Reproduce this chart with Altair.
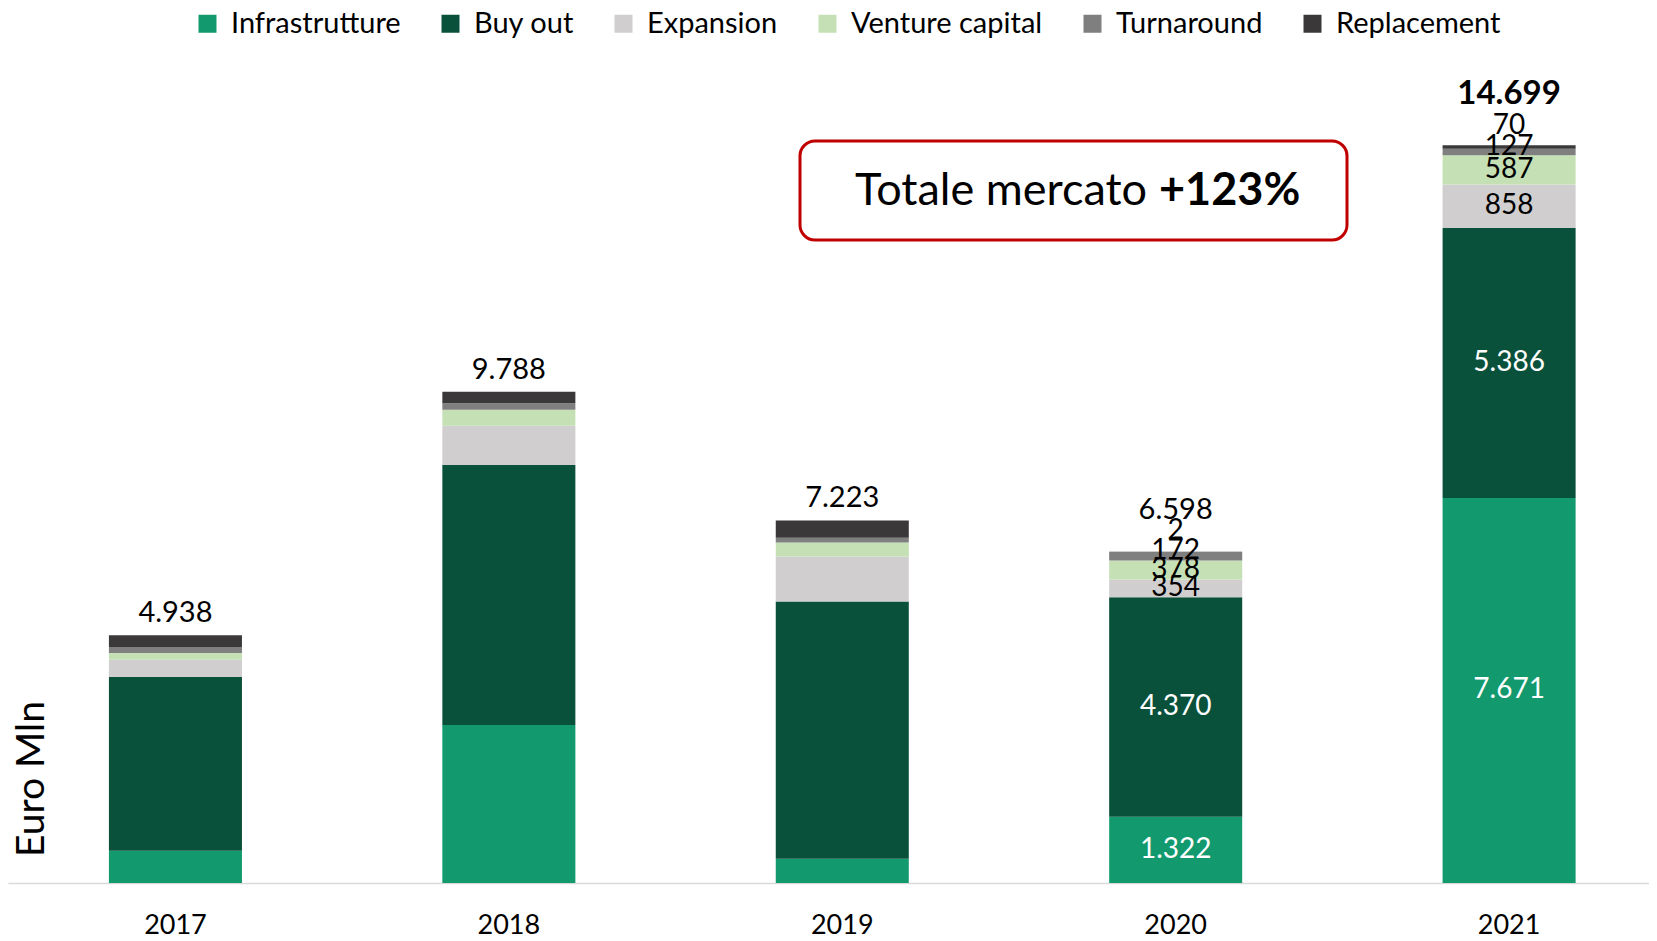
import altair as alt
import pandas as pd

# ---------------- data ----------------
years = ["2017", "2018", "2019", "2020", "2021"]
categories = ["Infrastrutture", "Buy out", "Expansion", "Venture capital", "Turnaround", "Replacement"]
colors = ["#129A6E", "#0A513C", "#D0CECE", "#C5E0B4", "#7F7F7F", "#3A3838"]

infrastrutture = [643, 3150, 484, 1322, 7671]
buy_out = [3460, 5178, 5125, 4370, 5386]
expansion = [345, 783, 896, 354, 858]
venture_capital = [133, 319, 279, 378, 587]
turnaround = [120, 127, 94, 172, 127]
replacement = [237, 231, 345, 2, 70]

totals = [4938, 9788, 7223, 6598, 14699]
labelled_years = ["2020", "2021"]
dark_categories = ["Infrastrutture", "Buy out"]

series = [infrastrutture, buy_out, expansion, venture_capital, turnaround, replacement]


def fmt(v):
    return f"{v:,}".replace(",", ".")


rows = []
for i, yr in enumerate(years):
    base = 0
    for j, cat in enumerate(categories):
        v = series[j][i]
        rows.append(dict(year=yr, cat=cat, order=j, value=v, y0=base, y1=base + v,
                         mid=base + v / 2, label=fmt(v),
                         show=yr in labelled_years, dark=cat in dark_categories))
        base += v
df = pd.DataFrame(rows)
tot = pd.DataFrame({"year": years, "total": totals, "label": [fmt(t) for t in totals]})

FONT = "Lato"
YMAX = 17434

xenc = alt.X("year:N", sort=years,
             scale=alt.Scale(paddingInner=0.601, paddingOuter=0.2614, align=0.579),
             axis=alt.Axis(title=None, labelAngle=0, labelFont=FONT, labelFontSize=27,
                           labelColor="#000000", labelPadding=29, ticks=False,
                           domainColor="#D9D9D9", domainWidth=1.5, grid=False))
yscale = alt.Scale(domain=[0, YMAX], nice=False, zero=True)

bars = alt.Chart(df).mark_bar().encode(
    x=xenc,
    y=alt.Y("y0:Q", scale=yscale, axis=None),
    y2="y1:Q",
    color=alt.Color("cat:N", scale=alt.Scale(domain=categories, range=colors),
                    legend=alt.Legend(title=None, orient="none", legendX=185, legendY=1,
                                      direction="horizontal", symbolType="square",
                                      symbolSize=324, symbolStrokeWidth=0, symbolOpacity=1,
                                      labelFont=FONT, labelFontSize=29, labelColor="#000000",
                                      labelLimit=500, columnPadding=35, labelOffset=9)),
)

seg = alt.Chart(df).transform_filter(alt.datum.show)
seg_enc = dict(
    x=alt.X("year:N", sort=years),
    y=alt.Y("mid:Q", scale=yscale),
    text="label:N",
    color=alt.condition(alt.datum.dark, alt.value("#FFFFFF"), alt.value("#000000")),
)
seg_main = seg.transform_filter(
    (alt.datum.cat != "Turnaround") & (alt.datum.cat != "Replacement")
).mark_text(font=FONT, fontSize=28, baseline="middle").encode(**seg_enc)
seg_turn = seg.transform_filter(alt.datum.cat == "Turnaround").mark_text(
    font=FONT, fontSize=28, baseline="middle", dy=-5).encode(**seg_enc)
seg_repl = seg.transform_filter(alt.datum.cat == "Replacement").mark_text(
    font=FONT, fontSize=28, baseline="middle", dy=-21).encode(**seg_enc)

tot_enc = dict(x=alt.X("year:N", sort=years), y=alt.Y("total:Q", scale=yscale), text="label:N")
tot_a = alt.Chart(tot).transform_filter(
    alt.FieldOneOfPredicate(field="year", oneOf=["2017", "2018", "2019"])
).mark_text(font=FONT, fontSize=29, baseline="middle", dy=-22, color="#000000").encode(**tot_enc)
tot_b = alt.Chart(tot).transform_filter(alt.datum.year == "2020").mark_text(
    font=FONT, fontSize=29, baseline="middle", dy=-42, color="#000000").encode(**tot_enc)
tot_c = alt.Chart(tot).transform_filter(alt.datum.year == "2021").mark_text(
    font=FONT, fontSize=33, fontWeight="bold", baseline="middle", dy=-51,
    color="#000000").encode(**tot_enc)

one = pd.DataFrame({"t": ["Euro Mln"]})
ytitle = alt.Chart(one).mark_text(font=FONT, fontSize=39, angle=270, baseline="middle",
                                  align="center", color="#000000").encode(
    x=alt.value(24), y=alt.value(771), text="t:N")

box = alt.Chart(pd.DataFrame({"a": [0]})).mark_rect(
    fill="#FFFFFF", stroke="#C00000", strokeWidth=3, cornerRadius=15).encode(
    x=alt.value(792), x2=alt.value(1339), y=alt.value(133), y2=alt.value(232))

note = pd.DataFrame({"a": ["Totale mercato"], "b": ["+123%"]})
note_a = alt.Chart(note).mark_text(font=FONT, fontSize=45, align="right", baseline="middle",
                                   color="#000000").encode(
    x=alt.value(1139), y=alt.value(183), text="a:N")
note_b = alt.Chart(note).mark_text(font=FONT, fontSize=45, fontWeight="bold", align="left",
                                   baseline="middle", color="#000000").encode(
    x=alt.value(1151), y=alt.value(183), text="b:N")

chart = alt.layer(
    bars, seg_main, seg_turn, seg_repl, tot_a, tot_b, tot_c, ytitle, box, note_a, note_b
).properties(width=1641, height=875, padding=0).configure_view(stroke=None)

chart.save("out.html", embed_options={"renderer": "svg", "actions": False})
